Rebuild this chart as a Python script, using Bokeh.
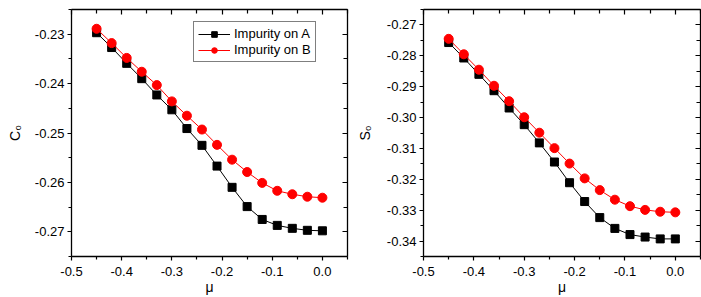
from bokeh.plotting import figure
from bokeh.layouts import row
from bokeh.models import (LinearAxis, FixedTicker, NumeralTickFormatter, Range1d, Legend,
                          LegendItem, CustomLabelingPolicy)
from bokeh.embed import file_html
from bokeh.resources import INLINE

# ---- data ----
mu = [-0.45, -0.42, -0.39, -0.36, -0.33, -0.30, -0.27, -0.24,
      -0.21, -0.18, -0.15, -0.12, -0.09, -0.06, -0.03, 0.00]

c0_A = [-0.2297, -0.2327, -0.2359, -0.2390, -0.2423, -0.2453, -0.2491, -0.2525,
        -0.2567, -0.2610, -0.2649, -0.2675, -0.2687, -0.2693, -0.2697, -0.2698]
c0_B = [-0.2289, -0.2318, -0.2348, -0.2376, -0.2403, -0.2436, -0.2465, -0.2493,
        -0.2524, -0.2554, -0.2579, -0.2601, -0.2617, -0.2624, -0.2629, -0.2631]

s0_A = [-0.2757, -0.2807, -0.2860, -0.2913, -0.2969, -0.3023, -0.3082, -0.3144,
        -0.3211, -0.3272, -0.3324, -0.3359, -0.3379, -0.3387, -0.3393, -0.3393]
s0_B = [-0.2745, -0.2795, -0.2845, -0.2897, -0.2947, -0.2999, -0.3049, -0.3099,
        -0.3149, -0.3197, -0.3235, -0.3266, -0.3287, -0.3299, -0.3305, -0.3307]

x_ticks = [-0.5, -0.4, -0.3, -0.2, -0.1, 0.0]
x_minor = [-0.45, -0.35, -0.25, -0.15, -0.05, 0.05]
c0_ticks = [-0.27, -0.26, -0.25, -0.24, -0.23]
c0_minor = [-0.275, -0.265, -0.255, -0.245, -0.235, -0.225]
s0_ticks = [-0.34, -0.33, -0.32, -0.31, -0.30, -0.29, -0.28, -0.27]
s0_minor = [-0.345, -0.335, -0.325, -0.315, -0.305, -0.295, -0.285, -0.275, -0.265]

x_label = "μ"
label_A = "Impurity on A"
label_B = "Impurity on B"

FONT = "Liberation Sans"


def style_axis(ax, outward=True, show_labels=True):
    ax.axis_line_color = "black"
    ax.axis_line_width = 1.3
    ax.major_tick_line_color = "black"
    ax.minor_tick_line_color = "black"
    ax.major_tick_line_width = 1.2
    ax.minor_tick_line_width = 1.2
    if outward:
        ax.major_tick_out = 4
        ax.major_tick_in = 0
        ax.minor_tick_out = 3
        ax.minor_tick_in = 0
    else:
        ax.major_tick_out = 0
        ax.major_tick_in = 5
        ax.minor_tick_out = 0
        ax.minor_tick_in = 4
    ax.major_label_text_font = FONT
    if show_labels:
        ax.major_label_text_font_size = "13px"
        ax.major_label_text_color = "black"
        ax.major_label_standoff = 3
    else:
        ax.major_label_policy = CustomLabelingPolicy(code="return []")
        ax.major_label_text_font_size = "13px"
        ax.major_label_text_alpha = 0
        ax.major_label_standoff = 0


def make_fig(width, left_border, right_border, yr, yticks, yminor, ylabel, ylabel_standoff,
             ya, yb, legend=False):
    p = figure(width=width, height=297, x_range=Range1d(-0.5, 0.05), y_range=Range1d(*yr),
               output_backend="svg", toolbar_location=None,
               min_border_left=left_border, min_border_right=right_border,
               min_border_top=9, min_border_bottom=40)
    p.grid.visible = False
    p.outline_line_color = None
    p.background_fill_color = "white"
    p.border_fill_color = "white"

    p.xaxis.ticker = FixedTicker(ticks=x_ticks, minor_ticks=x_minor)
    p.xaxis.formatter = NumeralTickFormatter(format="0.0")
    p.yaxis.ticker = FixedTicker(ticks=yticks, minor_ticks=yminor)
    p.yaxis.formatter = NumeralTickFormatter(format="0.00")
    for ax in p.xaxis + p.yaxis:
        style_axis(ax, outward=True, show_labels=True)
    p.xaxis.major_label_standoff = 6
    p.xaxis.axis_label = x_label
    p.xaxis.axis_label_standoff = 0
    p.yaxis.axis_label = ylabel
    p.yaxis.axis_label_standoff = ylabel_standoff
    for ax in p.xaxis + p.yaxis:
        ax.axis_label_text_font = FONT
        ax.axis_label_text_font_style = "normal"
        ax.axis_label_text_font_size = "14px"
        ax.axis_label_text_color = "black"

    top = LinearAxis(ticker=FixedTicker(ticks=x_ticks, minor_ticks=x_minor))
    style_axis(top, outward=False, show_labels=False)
    p.add_layout(top, "above")
    right = LinearAxis(ticker=FixedTicker(ticks=yticks, minor_ticks=yminor))
    style_axis(right, outward=False, show_labels=False)
    p.add_layout(right, "right")

    la = p.line(mu, ya, line_color="black", line_width=1)
    sa = p.scatter(mu, ya, marker="square", size=8, fill_color="black", line_color="black")
    lb = p.line(mu, yb, line_color="red", line_width=1)
    sb = p.scatter(mu, yb, marker="circle", size=9, fill_color="red", line_color="red")

    if legend:
        lg = Legend(items=[LegendItem(label=label_A, renderers=[la, sa]),
                           LegendItem(label=label_B, renderers=[lb, sb])],
                    location=(122, 194))
        lg.label_text_font = FONT
        lg.label_text_font_size = "13px"
        lg.label_text_color = "black"
        lg.padding = 4
        lg.margin = 0
        lg.spacing = 1
        lg.label_height = 14
        lg.glyph_height = 14
        lg.glyph_width = 32
        lg.label_standoff = 4
        lg.border_line_color = "black"
        lg.border_line_width = 1
        lg.background_fill_color = "white"
        lg.background_fill_alpha = 1
        p.add_layout(lg, "center")
    return p


p1 = make_fig(350, 71, 3, (-0.275, -0.225), c0_ticks, c0_minor, "C₀", 9, c0_A, c0_B, legend=True)
p2 = make_fig(351, 73, 1, (-0.345, -0.265), s0_ticks, s0_minor, "S₀", 11, s0_A, s0_B)

layout = row(p1, p2)
open("out.html", "w").write(file_html(layout, INLINE))
